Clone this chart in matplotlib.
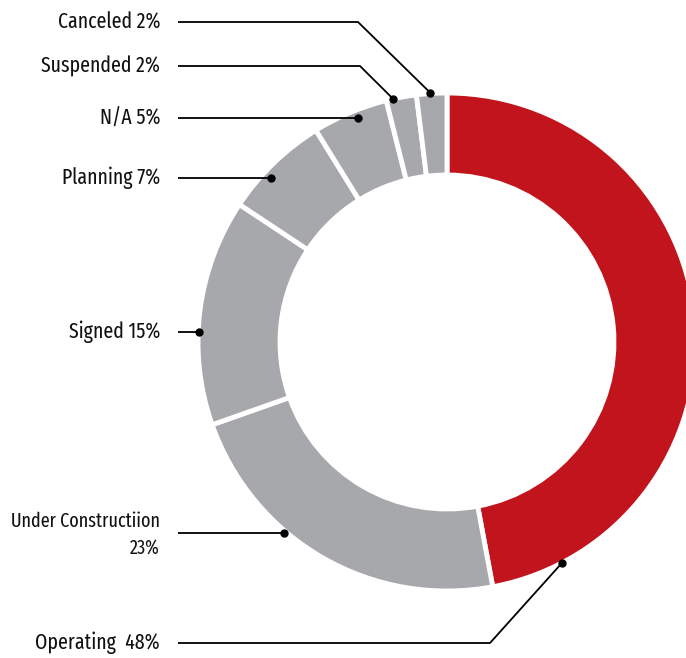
import numpy as np
import matplotlib.pyplot as plt

# -----------------------------
# data
# -----------------------------
labels = ["Operating  48%", "Under Constructiion\n23%", "Signed 15%", "Planning 7%",
          "N/A 5%", "Suspended 2%", "Canceled 2%"]
values = [48, 23, 15, 7, 5, 2, 2]
colors = ["#C1141D", "#A7A8AB", "#A7A8AB", "#A7A8AB", "#A7A8AB", "#A7A8AB", "#A7A8AB"]

# -----------------------------
# layout (pixels, origin bottom-left)
# -----------------------------
W, H = 686, 658
center = (447, H - 342)
radius = 249
ring = 82
text_x = 160
line_x0 = 178
text_y = [H - 643, H - 535, H - 332, H - 178, H - 118, H - 66, H - 22]
elbow_x = [490, None, None, None, None, 360, 358]
dot_frac = [0.90, 0.63, 0.41, 0.38, 0.57, 0.23, 0.45]
dot_r = [249, 251, 248, 241, 241, 249, 250]
font_size = [15.5, 14.2, 15.5, 15.5, 15.5, 15.5, 15.5]

plt.rcParams["font.family"] = ["Fira Sans Extra Condensed", "Open Sans", "DejaVu Sans"]

fig = plt.figure(figsize=(W / 100, H / 100), dpi=100)
ax = fig.add_axes([0, 0, 1, 1])

wedges, _ = ax.pie(values, colors=colors, startangle=90, counterclock=False,
                   center=center, radius=radius,
                   wedgeprops=dict(width=ring, edgecolor="white", linewidth=3.5))

for i, w in enumerate(wedges):
    ang = np.deg2rad(w.theta2 - dot_frac[i] * (w.theta2 - w.theta1))
    dx = center[0] + dot_r[i] * np.cos(ang)
    dy = center[1] + dot_r[i] * np.sin(ang)
    ty = text_y[i]
    if elbow_x[i] is None:
        xs, ys = [line_x0, dx], [dy, dy]
    else:
        xs, ys = [line_x0, elbow_x[i], dx], [ty, ty, dy]
    ax.plot(xs, ys, color="black", lw=1.3, solid_capstyle="butt", zorder=3)
    ax.plot(dx, dy, "o", color="black", ms=5, zorder=4)
    ax.text(text_x, ty, labels[i], ha="right", va="center", fontsize=font_size[i],
            fontstretch="extra-condensed", linespacing=1.55, color="#111111")

ax.set_xlim(0, W)
ax.set_ylim(0, H)
ax.set_aspect("equal")
ax.axis("off")

fig.savefig("out.png", dpi=100)
